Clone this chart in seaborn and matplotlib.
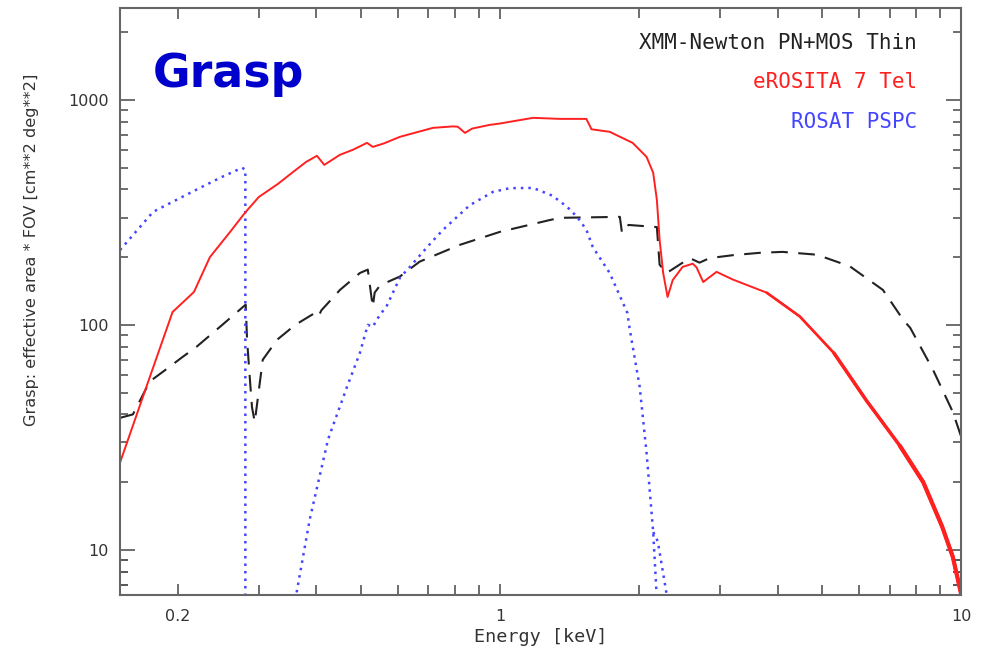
import numpy as np
import pandas as pd
import matplotlib
matplotlib.use("Agg")
import matplotlib.pyplot as plt
import seaborn as sns
from matplotlib.ticker import FixedLocator, NullFormatter, FixedFormatter

# ---- data ----
erosita_E = [0.15, 0.17, 0.195, 0.217, 0.235, 0.26, 0.28, 0.30, 0.33, 0.356, 0.38, 0.401, 0.408,
             0.416, 0.45, 0.48, 0.515, 0.53, 0.56, 0.607, 0.716, 0.79, 0.81, 0.84, 0.87, 0.95,
             1.0, 1.18, 1.35, 1.54, 1.58, 1.73, 1.94, 2.08, 2.15, 2.19, 2.22, 2.26, 2.31, 2.37,
             2.49, 2.62, 2.67, 2.76, 2.95, 3.2, 3.79, 4.47, 5.3, 6.24, 7.37, 8.28, 9.1, 9.6, 10.0]
erosita_A = [24.4, 51, 114, 140, 200, 259, 315, 370, 423, 478, 530, 564, 540,
             514, 570, 600, 644, 618, 640, 685, 751, 762, 760, 713, 745, 774,
             785, 832, 823, 823, 740, 721, 644, 558, 474, 359, 239, 170, 133, 158,
             181, 187, 180, 155, 172, 159, 139, 109, 75, 46, 29, 20, 12.7, 9.3, 6.4]

xmm_E = [0.15, 0.16, 0.174, 0.19, 0.205, 0.22, 0.25, 0.281, 0.283, 0.287, 0.29, 0.294, 0.306,
         0.329, 0.36, 0.40, 0.405, 0.41, 0.45, 0.497, 0.517, 0.53, 0.535, 0.55, 0.607, 0.67,
         0.82, 1.0, 1.28, 1.35, 1.82, 1.84, 1.9, 2.19, 2.22, 2.30, 2.58, 2.71, 2.85, 3.2,
         3.66, 4.1, 4.87, 5.74, 6.77, 7.5, 7.76, 8.7, 9.6, 10.0]
xmm_A = [38.6, 40, 56, 64, 72, 80, 100, 123, 85, 57, 43, 37, 70,
         86, 100, 114, 110, 116, 143, 170, 176, 120, 139, 150, 164, 191,
         227, 259, 292, 299, 302, 256, 278, 272, 185, 170, 198, 189, 198, 204,
         209, 211, 205, 182, 143, 105, 97, 63, 41, 32]

rosat_low_E = [0.15, 0.177, 0.215, 0.247, 0.276, 0.2805, 0.2805]
rosat_low_A = [215, 318, 390, 450, 499, 490, 5.0]

rosat_high_E = [0.36, 0.387, 0.424, 0.466, 0.497, 0.517, 0.53, 0.545, 0.569, 0.607, 0.638, 0.70,
                0.752, 0.86, 0.966, 1.05, 1.18, 1.30, 1.40, 1.47, 1.54, 1.59, 1.73, 1.89, 1.91,
                2.01, 2.08, 2.15, 2.19]
rosat_high_A = [6.0, 13.7, 31, 53, 75, 100, 98, 108, 122, 162, 181, 225,
                264, 340, 390, 405, 406, 375, 334, 302, 265, 222, 170, 113, 97,
                53, 27, 12, 6.0]

rosat_branch_E = [2.15, 2.20, 2.31]
rosat_branch_A = [12, 10.9, 6.0]

x_major = [0.2, 1, 10]
x_major_labels = ["0.2", "1", "10"]
y_major = [10, 100, 1000]
y_major_labels = ["10", "100", "1000"]

legend_labels = ["XMM-Newton PN+MOS Thin", "eROSITA 7 Tel", "ROSAT PSPC"]

# ---- styling ----
sns.set_style("white")
plt.rcParams['font.family'] = ['DejaVu Sans']

RED = "#ff2020"
BLUE = "#4545ff"
BLACK = "#222222"

fig = plt.figure(figsize=(9.81, 6.51), dpi=100)
ax = fig.add_axes([120/981, 1-595/651, (961-120)/981, (595-8)/651])

dots = (0, (1, 2.0))
sns.lineplot(x=xmm_E, y=xmm_A, ax=ax, color=BLACK, lw=1.5, sort=False, estimator=None,
             linestyle=(0, (8, 5)))
sns.lineplot(x=rosat_low_E, y=rosat_low_A, ax=ax, color=BLUE, lw=1.8, sort=False, estimator=None,
             linestyle=dots)
sns.lineplot(x=rosat_high_E, y=rosat_high_A, ax=ax, color=BLUE, lw=1.8, sort=False, estimator=None,
             linestyle=dots)
sns.lineplot(x=rosat_branch_E, y=rosat_branch_A, ax=ax, color=BLUE, lw=1.8, sort=False, estimator=None,
             linestyle=dots)
sns.lineplot(x=erosita_E, y=erosita_A, ax=ax, color=RED, lw=1.4, sort=False, estimator=None)
# noisy high-energy part appears as a progressively thicker trace
for emin, lw in ((3.79, 1.9), (5.3, 2.5), (7.37, 3.0)):
    idx = [i for i, e in enumerate(erosita_E) if e >= emin]
    sns.lineplot(x=[erosita_E[i] for i in idx], y=[erosita_A[i] for i in idx], ax=ax,
                 color=RED, lw=lw, sort=False, estimator=None)

ax.set_xscale("log")
ax.set_yscale("log")
ax.set_xlim(0.15, 10)
ax.set_ylim(6.3, 2560)

ax.xaxis.set_major_locator(FixedLocator(x_major))
ax.xaxis.set_major_formatter(FixedFormatter(x_major_labels))
ax.xaxis.set_minor_locator(FixedLocator([0.3, 0.4, 0.5, 0.6, 0.7, 0.8, 0.9, 2, 3, 4, 5, 6, 7, 8, 9]))
ax.xaxis.set_minor_formatter(NullFormatter())
ax.yaxis.set_major_locator(FixedLocator(y_major))
ax.yaxis.set_major_formatter(FixedFormatter(y_major_labels))
yminor = [v * d for d in (1, 10, 100, 1000) for v in range(2, 10)] + [7, 8, 9]
ax.yaxis.set_minor_locator(FixedLocator(yminor))
ax.yaxis.set_minor_formatter(NullFormatter())

ax.tick_params(which="both", direction="in", top=True, right=True, bottom=True, left=True,
               colors="#555555", labelcolor="#333333", labelsize=11.5, width=1.2)
ax.tick_params(axis="y", which="major", length=11, pad=8)
ax.tick_params(axis="y", which="minor", length=6)
ax.tick_params(axis="x", which="major", length=8, pad=10)
ax.tick_params(axis="x", which="minor", length=7)

for s in ax.spines.values():
    s.set_color("#666666")
    s.set_linewidth(1.5)

ax.set_xlabel("")
ax.set_ylabel("")
fig.text(541/981, 1-637/651, "Energy [keV]", ha="center", va="center",
         family="DejaVu Sans Mono", fontsize=13.3, color="#333333")
fig.text(32/981, 1-250/651, "Grasp: effective area * FOV [cm**2 deg**2]", rotation=90,
         ha="center", va="center", fontsize=11.6, color="#333333")

ax.text(153/981, 1-87/651, "Grasp", transform=fig.transFigure, fontsize=33,
        fontweight="bold", color="#0000cc", ha="left", va="baseline")

leg_colors = [BLACK, RED, BLUE]
leg_y = [43, 82, 122]
for lab, c, yy in zip(legend_labels, leg_colors, leg_y):
    fig.text(917/981, 1-yy/651, lab, ha="right", va="center", family="DejaVu Sans Mono",
             fontsize=15, color=c)

fig.savefig("out.png", dpi=100)
